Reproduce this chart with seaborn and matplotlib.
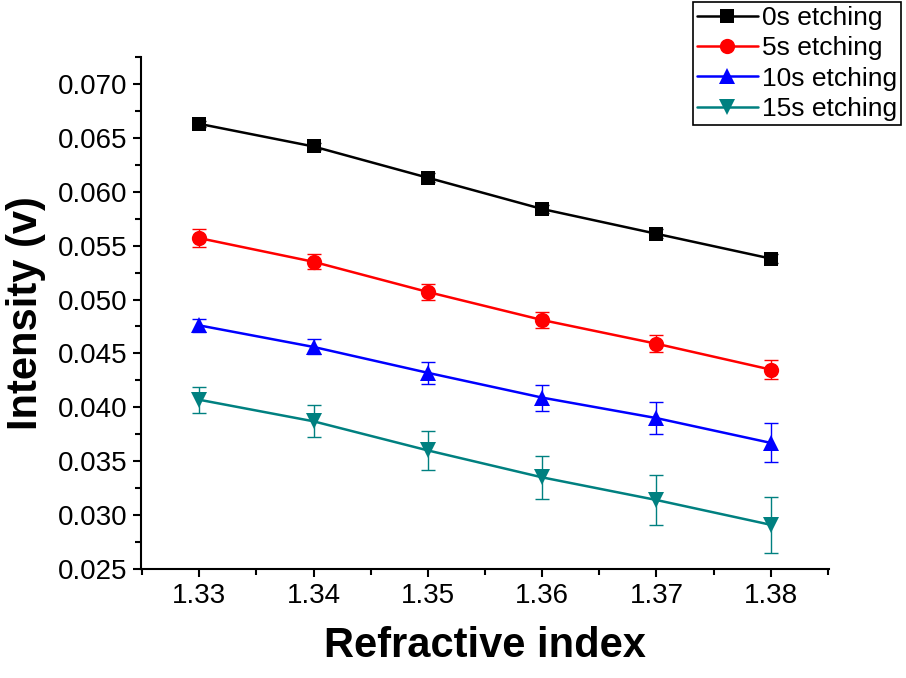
import numpy as np
import pandas as pd
import seaborn as sns
import matplotlib
matplotlib.use("Agg")
import matplotlib.pyplot as plt
from matplotlib.ticker import MultipleLocator, FormatStrFormatter

# data
refr_index = [1.33, 1.34, 1.35, 1.36, 1.37, 1.38]
labels = ["0s etching", "5s etching", "10s etching", "15s etching"]

int_0s = [0.0663, 0.0642, 0.0613, 0.0584, 0.0561, 0.0538]
int_5s = [0.0557, 0.0535, 0.0507, 0.0481, 0.0459, 0.0435]
int_10s = [0.0476, 0.0456, 0.0432, 0.0409, 0.0390, 0.0367]
int_15s = [0.0407, 0.0387, 0.0360, 0.0335, 0.0314, 0.0291]

err_0s = [0.0003, 0.0003, 0.0004, 0.0004, 0.0004, 0.0004]
err_5s = [0.0008, 0.0007, 0.0007, 0.0007, 0.0008, 0.0009]
err_10s = [0.0006, 0.0007, 0.0010, 0.0012, 0.0015, 0.0018]
err_15s = [0.0012, 0.0015, 0.0018, 0.0020, 0.0023, 0.0026]

colors = ["#000000", "#ff0000", "#0000ff", "#008080"]
markers = ["s", "o", "^", "v"]
msizes = [10, 11, 11, 11]

df = pd.DataFrame({
    "ri": refr_index * 4,
    "intensity": int_0s + int_5s + int_10s + int_15s,
    "err": err_0s + err_5s + err_10s + err_15s,
    "series": [l for l in labels for _ in refr_index],
})

sns.set_theme(style="ticks")
plt.rcParams["font.family"] = ["Liberation Sans", "DejaVu Sans"]
plt.rcParams["text.color"] = "black"
plt.rcParams["axes.labelcolor"] = "black"

fig = plt.figure(figsize=(9.06, 6.78), dpi=100)
ax = fig.add_axes([0.1556, 0.1608, 0.7594, 0.7551])

# error bars first so the markers sit on top
for i, lab in enumerate(labels):
    sub = df[df["series"] == lab]
    ax.errorbar(sub["ri"], sub["intensity"], yerr=sub["err"], fmt="none",
                ecolor=colors[i], elinewidth=1.0, capsize=5, capthick=1.0, zorder=2)

for i, lab in enumerate(labels):
    sub = df[df["series"] == lab]
    sns.lineplot(data=sub, x="ri", y="intensity", color=colors[i], marker=markers[i],
                 markersize=msizes[i], markeredgewidth=0, linewidth=1.8, label=lab,
                 ax=ax, zorder=3)

ax.set_xlim(1.3249, 1.3851)
ax.set_ylim(0.025, 0.0725)
ax.xaxis.set_major_locator(MultipleLocator(0.01))
ax.xaxis.set_minor_locator(MultipleLocator(0.005))
ax.yaxis.set_major_locator(MultipleLocator(0.005))
ax.yaxis.set_minor_locator(MultipleLocator(0.0025))
ax.xaxis.set_major_formatter(FormatStrFormatter("%.2f"))
ax.yaxis.set_major_formatter(FormatStrFormatter("%.3f"))

for s in ["top", "right"]:
    ax.spines[s].set_visible(False)
for s in ["left", "bottom"]:
    ax.spines[s].set_linewidth(1.5)
    ax.spines[s].set_color("black")

ax.tick_params(which="major", direction="out", length=6, width=1.5,
               labelsize=20, colors="black", labelcolor="black", pad=4)
ax.tick_params(which="minor", direction="out", length=4, width=1.5, colors="black")

ax.set_xlabel("Refractive index", fontsize=30, fontweight="bold", labelpad=12,
              color="black")
ax.set_ylabel("Intensity (v)", fontsize=30, fontweight="bold", labelpad=8,
              color="black")

handles, hl = ax.get_legend_handles_labels()
leg = ax.legend(handles, hl, loc="upper left", bbox_to_anchor=(0.765, 0.997),
                bbox_transform=fig.transFigure, fontsize=19, frameon=True,
                fancybox=False, edgecolor="black", framealpha=1, handlelength=2.3,
                handletextpad=0.15, borderpad=0.15, labelspacing=0.24,
                borderaxespad=0)
leg.get_frame().set_linewidth(1.2)
for t in leg.get_texts():
    t.set_color("black")

fig.savefig("out.png", dpi=100)
